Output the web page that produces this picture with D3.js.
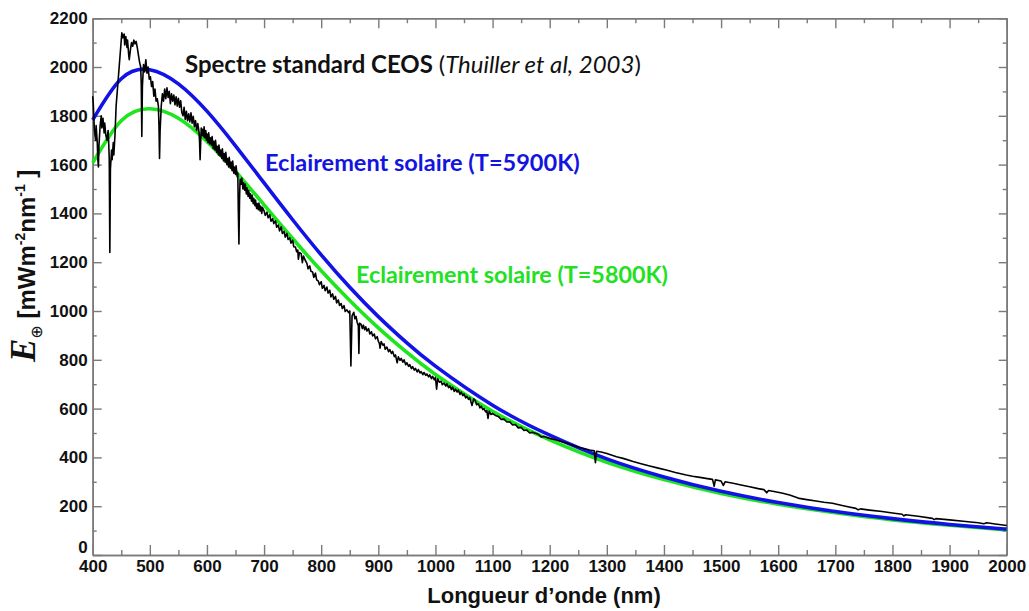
<!DOCTYPE html>
<html><head><meta charset="utf-8">
<script src="https://cdn.jsdelivr.net/npm/d3@7"></script>
<style>body{margin:0;background:#fff}svg{display:block}</style>
</head><body><svg id="c" width="1029" height="611"></svg>
<script>
// ---------- data ----------
const xMajorTicks = [400,500,600,700,800,900,1000,1100,1200,1300,1400,1500,1600,1700,1800,1900,2000];
const xMinorTicks = [450,550,650,750,850,950,1050,1150,1250,1350,1450,1550,1650,1750,1850,1950];
const yMajorTicks = [0,200,400,600,800,1000,1200,1400,1600,1800,2000,2200];
const yMinorTicks = [100,300,500,700,900,1100,1300,1500,1700,1900,2100];

const modelNm   = [400,450,500,550,600,650,700,750,800,850,900,950,1000,1100,1200,1300,1400,1500,1600,1700,1800,1900,2000];
const blue5900K = [1783,1952,1989,1931,1819,1677,1525,1374,1230,1097,977,869,774,614,491,394,320,261,215,178,149,125,106];
const green5800K= [1607,1780,1829,1790,1695,1572,1435,1297,1165,1043,931,830,740,589,472,380,309,252,208,173,144,122,103];

// CEOS standard spectrum [nm, mW m-2 nm-1]
const ceosSpectrum = [
[400,1880],[401,1850],[402,1790],[403,1740],[405,1700],[406,1760],[408,1690],[409,1620],[410,1590],[411,1680],
[413,1760],[415,1800],[416,1750],[418,1790],[420,1730],[421,1770],[423,1720],[425,1700],[427,1740],[428,1690],
[429,1620],[430,1240],[431,1580],[433,1660],[434,1620],[436,1690],[437,1640],[439,1720],[441,1840],[443,1900],
[445,1960],[447,2020],[449,2080],[451,2140],[453,2120],[455,2135],[456,2090],[458,2125],[460,2080],[461,2110],
[463,2050],[464,2030],[466,2070],[468,2100],[470,2085],[472,2110],[474,2095],[476,2105],[478,2080],[480,2050],
[482,2020],[484,2000],[485,1930],[486,1715],[487,1920],[489,2010],[491,1980],[493,2030],[495,1975],[497,2000],
[499,1950],[501,1960],[503,1920],[505,1940],[507,1880],[509,1910],[511,1860],[513,1870],[515,1840],[516,1760],
[517,1625],[518,1740],[520,1840],[522,1890],[524,1860],[526,1910],[528,1870],[530,1915],[532,1875],[534,1900],
[536,1850],[538,1890],[540,1860],[542,1885],[544,1845],[546,1878],[548,1840],[550,1872],[552,1835],[554,1862],
[556,1815],[558,1800],[560,1835],[562,1785],[564,1818],[566,1780],[568,1808],[570,1775],[572,1812],[574,1770],
[576,1798],[578,1755],[580,1780],[582,1740],[584,1768],[586,1735],[587,1700],[588,1620],[589,1690],[590,1750],
[591,1720],[592,1745],[594,1715],[595,1755],[596,1710],[598,1740],[599,1700],[600,1725],[602,1690],[603,1730],
[605,1685],[606,1710],[608,1680],[609,1715],[611,1665],[612,1695],[614,1660],[615,1700],[617,1650],[618,1675],
[620,1640],[621,1680],[623,1635],[624,1660],[626,1625],[627,1665],[629,1615],[630,1645],[632,1610],[633,1650],
[635,1600],[636,1625],[638,1590],[639,1630],[641,1585],[642,1610],[644,1575],[645,1615],[647,1565],[648,1590],
[650,1560],[651,1595],[653,1550],[654,1565],[655,1400],[656,1275],[657,1450],[658,1540],[660,1520],[661,1545],
[663,1500],[664,1525],[666,1495],[667,1520],[669,1480],[670,1505],[672,1470],[673,1495],[675,1462],[676,1480],
[678,1450],[679,1475],[681,1440],[682,1462],[684,1432],[685,1455],[687,1420],[688,1440],[690,1415],[691,1442],
[693,1410],[694,1430],[696,1400],[697,1425],[700,1410],[702,1392],[705,1405],[707,1382],[710,1395],[712,1368],
[715,1378],[717,1358],[720,1370],[722,1343],[725,1352],[727,1328],[730,1345],[732,1318],[735,1326],[737,1303],
[740,1318],[742,1293],[745,1300],[747,1278],[750,1290],[752,1263],[755,1262],[757,1243],[759,1250],[760,1212],
[762,1240],[765,1235],[767,1198],[769,1225],[772,1208],[775,1195],[777,1173],[780,1185],[782,1163],[785,1160],
[787,1138],[790,1155],[792,1128],[795,1122],[797,1108],[800,1120],[802,1093],[805,1105],[807,1083],[810,1098],
[812,1073],[815,1085],[817,1058],[820,1070],[822,1048],[825,1060],[827,1033],[830,1045],[832,1023],[835,1030],
[837,1010],[840,1022],[842,998],[845,1005],[848,993],[850,1000],[852,775],[854,980],[857,995],[859,968],
[861,978],[863,953],[865,940],[866,826],[867,950],[870,945],[872,928],[874,942],[876,923],[878,935],
[880,918],[883,928],[885,906],[888,915],[890,898],[893,905],[895,886],[898,895],[900,876],[902,866],
[903,848],[905,875],[908,860],[910,865],[912,843],[915,852],[918,833],[920,842],[923,826],[925,835],
[928,813],[930,820],[933,788],[935,812],[938,798],[940,806],[943,790],[945,800],[948,780],[950,788],
[953,773],[955,780],[958,764],[960,772],[963,758],[965,765],[968,750],[970,760],[973,746],[975,752],
[978,739],[980,748],[983,736],[985,742],[988,730],[990,738],[993,723],[995,732],[998,718],[1000,728],
[1002,680],[1004,722],[1007,708],[1010,712],[1012,698],[1015,705],[1018,692],[1020,702],[1023,686],[1025,693],
[1028,678],[1030,688],[1033,670],[1035,680],[1038,668],[1040,676],[1043,658],[1045,668],[1048,653],[1050,660],
[1053,644],[1055,650],[1058,638],[1060,645],[1064,613],[1067,640],[1070,632],[1072,616],[1075,620],[1078,603],
[1080,610],[1083,596],[1085,600],[1088,586],[1090,592],[1092,560],[1094,590],[1097,576],[1100,580],[1105,572],
[1110,568],[1115,556],[1120,557],[1125,545],[1130,546],[1135,533],[1140,535],[1145,521],[1150,523],[1155,510],
[1160,512],[1165,500],[1170,503],[1180,495],[1185,484],[1190,486],[1200,478],[1210,472],[1220,465],[1230,458],
[1240,450],[1250,442],[1260,436],[1270,430],[1278,427],[1280,378],[1282,425],[1290,422],[1300,416],[1317,403],
[1330,395],[1346,383],[1360,374],[1375,365],[1390,356],[1404,348],[1420,338],[1439,328],[1450,323],[1463,318],
[1476,313],[1485,310],[1488,282],[1490,308],[1500,303],[1504,285],[1507,300],[1521,294],[1535,287],[1550,280],
[1565,272],[1575,268],[1580,255],[1583,264],[1595,259],[1608,253],[1620,246],[1630,238],[1637,232],[1650,227],
[1666,221],[1680,216],[1695,212],[1710,204],[1722,198],[1736,191],[1740,185],[1744,189],[1760,184],[1782,178],
[1800,172],[1817,167],[1820,160],[1823,165],[1845,159],[1870,150],[1873,145],[1876,149],[1900,144],[1928,137],
[1950,132],[1960,128],[1965,132],[1980,127],[2000,121]
];

// ---------- layout ----------
const svg = d3.select("#c");
const L = 92.7, R = 1006.7, T = 18.2, B = 555;
const x = d3.scaleLinear().domain([400,2000]).range([L,R]);
const y = d3.scaleLinear().domain([0,2200]).range([B,T]);
const axisColor = "#7a7a7a";

function styleAxis(g){
  g.selectAll(".domain").attr("stroke",axisColor).attr("stroke-width",1.6);
  g.selectAll(".tick line").attr("stroke",axisColor).attr("stroke-width",1.4);
  g.selectAll(".tick text").attr("fill","#111").attr("font-family","'Liberation Sans', Arial, sans-serif")
    .attr("font-weight","bold").attr("font-size",17);
}

// bottom axis
svg.append("g").attr("transform",`translate(0,${B})`)
  .call(d3.axisBottom(x).tickValues(xMajorTicks).tickSizeInner(-10).tickSizeOuter(0).tickPadding(5).tickFormat(d3.format("d")))
  .call(styleAxis);
svg.append("g").attr("transform",`translate(0,${B})`)
  .call(d3.axisBottom(x).tickValues(xMinorTicks).tickSizeInner(-5).tickSizeOuter(0).tickFormat(""))
  .call(styleAxis);
// top axis
svg.append("g").attr("transform",`translate(0,${T})`)
  .call(d3.axisTop(x).tickValues(xMajorTicks).tickSizeInner(-10).tickSizeOuter(0).tickFormat(""))
  .call(styleAxis);
svg.append("g").attr("transform",`translate(0,${T})`)
  .call(d3.axisTop(x).tickValues(xMinorTicks).tickSizeInner(-5).tickSizeOuter(0).tickFormat(""))
  .call(styleAxis);
// left axis
const leftAx = svg.append("g").attr("transform",`translate(${L},0)`)
  .call(d3.axisLeft(y).tickValues(yMajorTicks).tickSizeInner(-9).tickSizeOuter(0).tickPadding(5).tickFormat(d3.format("d")))
  .call(styleAxis);
leftAx.selectAll(".tick text").filter(d=>d===0).attr("y",-8);
svg.append("g").attr("transform",`translate(${L},0)`)
  .call(d3.axisLeft(y).tickValues(yMinorTicks).tickSizeInner(-4).tickSizeOuter(0).tickFormat(""))
  .call(styleAxis);
// right axis
svg.append("g").attr("transform",`translate(${R},0)`)
  .call(d3.axisRight(y).tickValues(yMajorTicks).tickSizeInner(-8).tickSizeOuter(0).tickFormat(""))
  .call(styleAxis);
svg.append("g").attr("transform",`translate(${R},0)`)
  .call(d3.axisRight(y).tickValues(yMinorTicks).tickSizeInner(-4).tickSizeOuter(0).tickFormat(""))
  .call(styleAxis);

// ---------- curves ----------
const modelLine = d3.line().x(d=>x(d[0])).y(d=>y(d[1])).curve(d3.curveNatural);
svg.append("path").datum(modelNm.map((n,i)=>[n,green5800K[i]])).attr("d",modelLine)
  .attr("fill","none").attr("stroke","#1ee61e").attr("stroke-width",3.6);
svg.append("path").datum(modelNm.map((n,i)=>[n,blue5900K[i]])).attr("d",modelLine)
  .attr("fill","none").attr("stroke","#1212e6").attr("stroke-width",3.6);
const specLine = d3.line().x(d=>x(d[0])).y(d=>y(d[1]));
svg.append("path").datum(ceosSpectrum).attr("d",specLine)
  .attr("fill","none").attr("stroke","#000").attr("stroke-width",1.6).attr("stroke-linejoin","round");

// ---------- annotations ----------
function fit(t, w){
  const l = t.node().getComputedTextLength();
  t.attr("font-size", (+t.attr("font-size"))*w/l);
}
const annFont = "Lato, 'Open Sans', sans-serif";
const t1 = svg.append("text").attr("x",185).attr("y",73).attr("font-family",annFont).attr("font-size",21).attr("fill","#111");
t1.append("tspan").attr("font-weight","bold").text("Spectre standard CEOS ");
t1.append("tspan").text("(");
t1.append("tspan").attr("font-style","italic").text("Thuiller et al, 2003");
t1.append("tspan").text(")");
fit(t1,456);
const t2 = svg.append("text").attr("x",265).attr("y",171).attr("font-family",annFont).attr("font-weight","bold")
  .attr("font-size",21).attr("fill","#1414e0").text("Eclairement solaire (T=5900K)");
fit(t2,315);
const t3 = svg.append("text").attr("x",356).attr("y",283).attr("font-family",annFont).attr("font-weight","bold")
  .attr("font-size",21).attr("fill","#22e022").text("Eclairement solaire (T=5800K)");
fit(t3,312);

// ---------- axis titles ----------
svg.append("text").attr("x",544).attr("y",603).attr("text-anchor","middle")
  .attr("font-family","'Liberation Sans', Arial, sans-serif").attr("font-weight","bold").attr("font-size",22)
  .attr("fill","#111").text("Longueur d’onde (nm)");

const yl = svg.append("text").attr("transform","translate(35,362) rotate(-90)")
  .attr("font-family","'Liberation Sans', Arial, sans-serif").attr("font-weight","bold").attr("font-size",24).attr("fill","#111");
yl.append("tspan").attr("font-family","'Liberation Serif', 'Times New Roman', serif").attr("font-style","italic")
  .attr("font-size",35).text("E");
yl.append("tspan").attr("font-family","'DejaVu Sans', sans-serif").attr("font-weight","normal").attr("font-size",16).attr("dy",7).text("⊕");
yl.append("tspan").attr("dy",-7).text(" [mWm");
yl.append("tspan").attr("font-size",14).attr("dy",-10).text("-2");
yl.append("tspan").attr("dy",10).text("nm");
yl.append("tspan").attr("font-size",14).attr("dy",-10).text("-1");
yl.append("tspan").attr("dy",10).text(" ]");
</script></body></html>
